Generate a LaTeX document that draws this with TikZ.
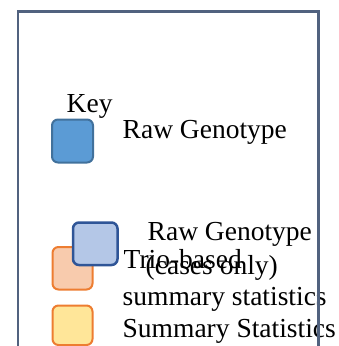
\documentclass[tikz,border=0pt]{standalone}
\usepackage{fontspec}
\setmainfont{Liberation Serif}
\definecolor{framec}{HTML}{51627F}
\definecolor{rawfill}{HTML}{5B9BD5}
\definecolor{rawdraw}{HTML}{41719C}
\definecolor{casefill}{HTML}{B4C7E7}
\definecolor{casedraw}{HTML}{2F5597}
\definecolor{triofill}{HTML}{F8CBAD}
\definecolor{orangedraw}{HTML}{ED7D31}
\definecolor{ssfill}{HTML}{FFE699}
\tikzset{
  keybox/.style={rounded corners=6pt, line width=2pt},
  lbl/.style={anchor=base west, inner sep=0pt, font=\fontsize{27.5}{30}\selectfont}
}
\begin{document}
\begin{tikzpicture}[x=1pt,y=-1pt]
\useasboundingbox (0,0) rectangle (339,346);
\clip (0,0) rectangle (339,346);
% key boxes
\draw[keybox, fill=rawfill, draw=rawdraw] (52,119.5) rectangle (93,162.5);
\draw[keybox, fill=triofill, draw=orangedraw] (52.5,247) rectangle (92.5,289.5);
\draw[keybox, fill=casefill, draw=casedraw, line width=2.5pt] (73,222.5) rectangle (117.5,265);
\draw[keybox, fill=ssfill, draw=orangedraw] (52.5,305.5) rectangle (92.5,345);
% labels
\node[lbl] (key) at (66.5,112.7) {Key};
\node[lbl] (rg1) at (122.5,138.5) {Raw Genotype};
\node[lbl] (rg2) at (147.5,240) {Raw Genotype};
\node[lbl] (co) at (145.5,274) {(cases only)};
\node[lbl] (tb1) at (123.5,268.5) {Trio-based};
\node[lbl] (tb2) at (122.5,305) {summary statistics};
\node[lbl] (ss) at (122.5,337) {Summary Statistics};
% frame
\draw[framec, line width=2.5pt] (18,360) -- (18,11.5) -- (318.5,11.5) -- (318.5,360);
\end{tikzpicture}
\end{document}
